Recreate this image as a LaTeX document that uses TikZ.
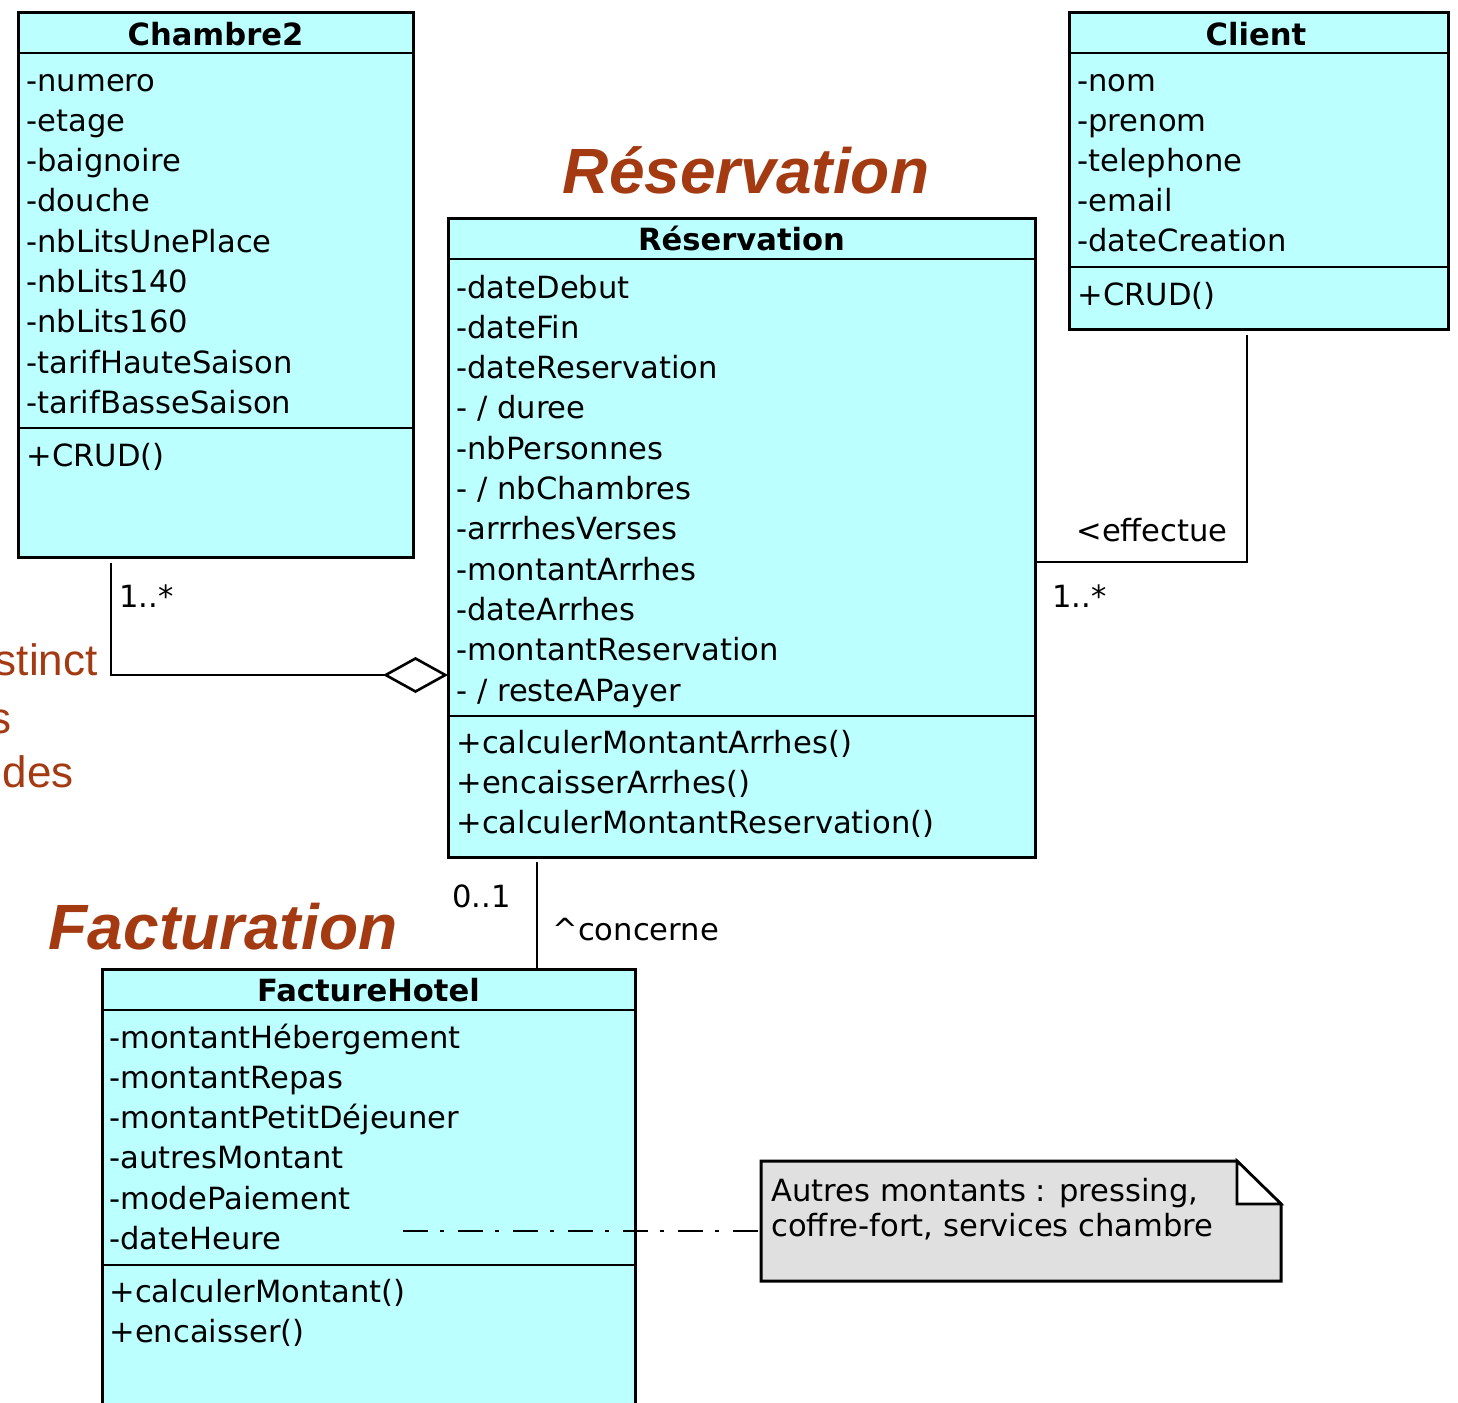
\documentclass[tikz,border=0pt]{standalone}
\usepackage{fontspec}
\setmainfont{DejaVu Sans}
\newfontfamily\titlefont{Liberation Sans}
\usetikzlibrary{arrows.meta,positioning}

\definecolor{umlcyan}{RGB}{187,255,255}
\definecolor{notegray}{RGB}{224,224,224}
\definecolor{rust}{RGB}{163,58,18}

\tikzset{
  classbox/.style={draw, fill=umlcyan, line width=1.5pt, inner sep=0pt, outer sep=0pt},
  sepline/.style={line width=1.3pt},
  member/.style={anchor=base west, inner sep=0pt, font=\fontsize{15.3}{18}\selectfont},
  classname/.style={anchor=base, inner sep=0pt, font=\fontsize{15.3}{18}\selectfont\bfseries},
  assoc/.style={line width=1.3pt},
  notelink/.style={line width=1.2pt, dash pattern=on 12.5pt off 6pt on 2pt off 7pt},
  bigtitle/.style={anchor=base, inner sep=0pt, text=rust, font=\titlefont\fontsize{32}{38}\selectfont\bfseries\itshape},
  sidetext/.style={anchor=base east, inner sep=0pt, text=rust, font=\titlefont\fontsize{22}{26}\selectfont},
}

\begin{document}
\begin{tikzpicture}[x=0.5pt, y=-0.5pt]
    \useasboundingbox (0,0) rectangle (1458,1403);

    % text cut at the left border
    \node (side1) [sidetext] at (98,675) {stinct};
    \node (side2) [sidetext] at (12,733) {s};
    \node (side3) [sidetext] at (74,787) {des};

    % package titles
    \node (tresa) [bigtitle] at (746,193) {Réservation};
    \node (tfact) [bigtitle] at (223,949) {Facturation};

    % Chambre2
    \node (chambre) [classbox, minimum width=197.5pt, minimum height=272.5pt] at (215.5,284.5) {};
    \draw [sepline] (chambre.west |- 0,53) -- (chambre.east |- 0,53);
    \draw [sepline] (chambre.west |- 0,428) -- (chambre.east |- 0,428);
    \node (chambre-name) [classname] at (215.5,45) {Chambre2};
    \foreach \txt [count=\i from 0] in {-numero,-etage,-baignoire,-douche,-nbLitsUnePlace,-nbLits140,-nbLits160,-tarifHauteSaison,-tarifBasseSaison}
        \node (chambre-a\i) [member] at (26,{91+40.3*\i}) {\txt};
    \node (chambre-m0) [member] at (26,466) {+CRUD()};

    % Client
    \node (client) [classbox, minimum width=189.5pt, minimum height=158.5pt] at (1258.5,170.5) {};
    \draw [sepline] (client.west |- 0,53) -- (client.east |- 0,53);
    \draw [sepline] (client.west |- 0,267) -- (client.east |- 0,267);
    \node (client-name) [classname] at (1256,45) {Client};
    \foreach \txt [count=\i from 0] in {-nom,-prenom,-telephone,-email,-dateCreation}
        \node (client-a\i) [member] at (1077,{91+40.1*\i}) {\txt};
    \node (client-m0) [member] at (1077,305) {+CRUD()};

    % Reservation
    \node (resa) [classbox, minimum width=293.5pt, minimum height=319.5pt] at (741.5,537.5) {};
    \draw [sepline] (resa.west |- 0,259) -- (resa.east |- 0,259);
    \draw [sepline] (resa.west |- 0,716) -- (resa.east |- 0,716);
    \node (resa-name) [classname] at (741.5,250) {Réservation};
    \foreach \txt [count=\i from 0] in {-dateDebut,-dateFin,-dateReservation,- / duree,-nbPersonnes,- / nbChambres,-arrrhesVerses,-montantArrhes,-dateArrhes,-montantReservation,- / resteAPayer}
        \node (resa-a\i) [member] at (456,{298+40.3*\i}) {\txt};
    \foreach \txt [count=\i from 0] in {+calculerMontantArrhes(),+encaisserArrhes(),+calculerMontantReservation()}
        \node (resa-m\i) [member] at (456,{753+40.3*\i}) {\txt};

    % FactureHotel
    \node (facture) [classbox, minimum width=266.5pt, minimum height=230.5pt] at (368.5,1199.5) {};
    \draw [sepline] (facture.west |- 0,1010) -- (facture.east |- 0,1010);
    \draw [sepline] (facture.west |- 0,1265) -- (facture.east |- 0,1265);
    \node (facture-name) [classname] at (368.5,1001) {FactureHotel};
    \foreach \txt [count=\i from 0] in {-montantHébergement,-montantRepas,-montantPetitDéjeuner,-autresMontant,-modePaiement,-dateHeure}
        \node (facture-a\i) [member] at (109,{1048+40.3*\i}) {\txt};
    \foreach \txt [count=\i from 0] in {+calculerMontant(),+encaisser()}
        \node (facture-m\i) [member] at (109,{1302+40.3*\i}) {\txt};

    % note
    \node (note) [minimum width=260pt, minimum height=60pt, inner sep=0pt, outer sep=0pt] at (1021,1221) {};
    \draw [fill=notegray, line width=1.5pt] (note.south west) -- (note.north west) -- ([xshift=-22pt]note.north east)
        -- ([yshift=-21.5pt]note.north east) -- (note.south east) -- cycle;
    \draw [fill=white, line width=1.3pt] ([xshift=-22pt]note.north east) -- ([xshift=-22pt,yshift=-21.5pt]note.north east)
        -- ([yshift=-21.5pt]note.north east) -- cycle;
    \node (note-l1) [member] at (771,1201) {Autres montants : pressing,};
    \node (note-l2) [member] at (771,1236) {coffre-fort, services chambre};

    % connectors
    \coordinate (chambre-out) at (111,563);
    \coordinate (client-out) at (1247,335);
    \coordinate (resa-out) at (537,862);
    \coordinate (facture-dash) at (403,1231);

    \draw [assoc, -{Diamond[open, length=32.5pt, width=18pt, line width=1.3pt]}] (chambre-out) |- (resa.west |- 0,675);
    \draw [assoc] (client-out) |- (resa.east |- 0,562);
    \draw [assoc] (resa-out) -- (facture.north -| resa-out);
    \draw [notelink] (facture-dash) -- (note.west |- facture-dash);

    % association labels
    \node (mult-ch) [member] at (119,607) {1..*};
    \node (mult-cl) [member] at (1052,607) {1..*};
    \node (lab-eff) [member] at (1076,541) {<effectue};
    \node (mult-fa) [member] at (452,907) {0..1};
    \node (lab-con) [member] at (552,940) {\textasciicircum concerne};
\end{tikzpicture}
\end{document}
